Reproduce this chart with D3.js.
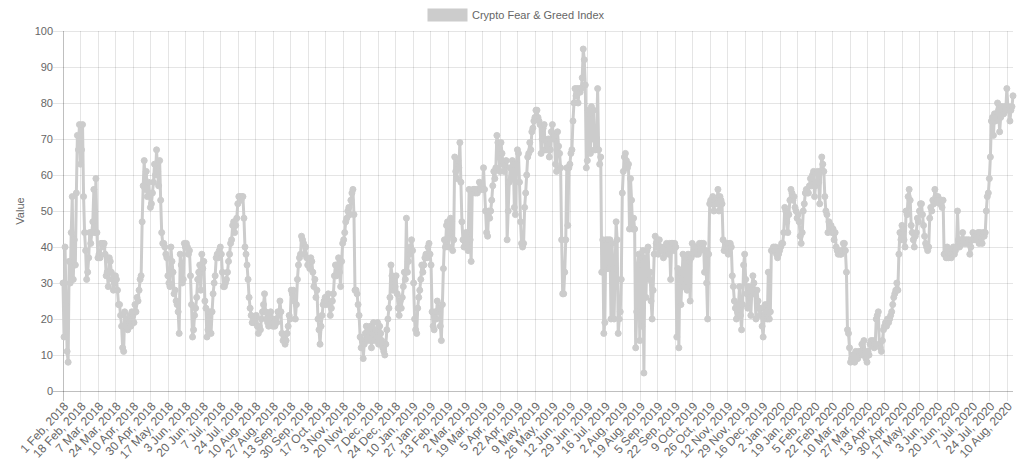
<!DOCTYPE html>
<html><head><meta charset="utf-8">
<script src="https://cdn.jsdelivr.net/npm/d3@7"></script>
<style>body{margin:0;background:#fff}svg{display:block;font-family:"Liberation Sans",Arial,Helvetica,sans-serif}</style>
</head><body><svg id="c" width="1024" height="463"></svg>
<script>
const seriesName = "Crypto Fear & Greed Index";
const yTitle = "Value";
const startDate = "2018-02-01";
const endDate = "2020-08-16";
const missingDays = ["2018-04-14","2018-04-15","2018-04-16"];
const values = [
30,15,40,24,11,8,36,30,44,54,
31,42,35,55,71,67,74,63,67,74,
54,44,39,31,33,37,44,41,
44,47,56,44,59,44,37,38,37,41,
41,40,41,38,32,33,29,37,36,33,
31,28,30,32,31,28,24,24,
21,18,12,11,22,18,20,17,19,21,
18,22,21,19,24,22,26,25,28,31,
32,
47,57,64,56,61,54,58,55,51,52,
55,58,63,60,67,61,57,64,53,44,
41,41,40,38,37,32,30,29,40,36,
33,27,28,25,24,22,16,38,35,30,
31,41,40,41,40,38,39,32,24,15,
17,21,23,26,31,33,
35,28,38,34,36,25,23,15,17,21,
22,16,22,27,30,32,37,38,37,39,
40,38,33,29,29,30,31,33,36,38,
41,42,46,47,44,46,48,52,54,54,
53,54,54,48,40,38,35,31,26,23,
21,19,19,20,19,21,18,16,18,17,
20,22,24,27,22,20,19,18,21,22,
20,18,19,18,20,19,22,21,25,22,
16,14,15,13,14,16,18,21,
20,28,27,28,25,20,24,31,35,37,
38,43,42,41,38,40,37,35,35,34,
37,36,33,29,31,26,28,20,17,13,
18,21,24,25,26,24,25,27,24,21,
23,25,27,32,35,32,35,37,33,29,
36,41,42,44,47,48,50,51,49,53,
55,56,49,28,28,27,24,21,15,12,
14,9,13,16,18,15,14,17,18,12,
16,19,14,17,15,19,13,18,
16,14,12,11,10,13,17,20,23,26,
35,32,28,31,29,32,27,23,21,25,
23,26,29,33,31,48,33,36,38,40,
42,39,30,20,17,16,23,26,28,31,
35,33,35,37,38,37,40,41,38,35,
22,18,17,22,20,25,22,23,18,14,
24,34,42,40,46,47,40,44,48,47,
39,42,65,61,59,64,62,69,58,47,
42,40,42,44,41,39,56,42,36,
55,56,56,55,56,55,56,58,56,57,
56,62,56,50,44,43,50,48,50,53,
57,61,59,62,71,69,65,61,69,66,
63,61,63,64,42,50,58,62,59,64,
63,51,49,63,67,66,58,47,41,40,
41,51,55,60,65,66,69,67,72,73,
75,76,78,78,76,75,74,66,70,73,
74,67,67,68,70,65,67,72,74,70,
71,63,61,72,68,66,
62,42,27,27,33,42,62,46,62,63,
66,67,75,80,84,82,84,80,84,83,
84,87,95,92,85,62,64,78,77,66,
79,70,78,67,67,70,84,67,63,65,
33,42,16,19,42,34,42,34,42,20,
41,33,20,34,47,42,16,20,22,31,
55,61,65,66,64,62,63,45,59,53,
45,48,45,12,22,35,38,14,37,18,
39,5,37,26,39,40,31,33,25,20,
28,38,43,41,40,38,42,39,40,39,
37,40,38,41,39,38,41,31,41,41,
39,41,40,15,34,12,33,24,31,38,
29,37,35,28,38,36,25,37,41,38,
40,40,38,39,38,41,39,41,40,41,
33,39,30,20,38,52,53,52,54,50,
52,53,52,56,50,54,53,52,42,39,
40,40,41,38,41,41,40,32,29,25,
23,20,22,24,29,21,
17,24,35,38,31,27,23,29,26,21,
28,32,30,27,20,28,25,23,21,23,
18,15,21,24,22,20,33,20,22,39,
39,40,39,40,38,37,38,39,40,41,
41,44,51,50,47,44,49,53,56,55,
53,54,51,50,48,49,47,43,41,44,
50,52,55,56,55,55,57,59,57,60,
61,54,57,58,61,58,52,61,65,63,
61,54,50,49,44,47,45,
46,44,45,42,44,40,39,38,39,38,
38,39,41,41,39,33,17,16,12,8,
9,10,9,8,11,9,9,11,10,11,
13,10,14,11,9,8,11,10,13,14,
13,14,12,13,20,21,22,13,12,11,
14,17,18,19,18,20,19,20,21,22,
24,26,27,28,30,28,38,44,42,46,
45,42,40,50,49,54,56,53,46,44,
42,40,43,44,48,47,50,52,
52,49,46,43,41,40,39,40,48,51,
50,53,52,56,54,53,54,53,52,53,
51,53,38,38,37,40,37,39,38,37,
38,40,38,39,40,50,42,40,42,41,
44,41,42,41,42,41,42,38,40,42,
44,42,43,43,42,44,41,44,42,41,
44,43,44,50,54,55,59,65,75,76,
71,77,75,76,80,78,72,76,79,78,
77,79,78,84,79,78,75,78,79,82
];
const tickLabels = ["1 Feb, 2018","18 Feb, 2018","7 Mar, 2018","24 Mar, 2018","10 Apr, 2018","30 Apr, 2018","17 May, 2018","3 Jun, 2018","20 Jun, 2018","7 Jul, 2018","24 Jul, 2018","10 Aug, 2018","27 Aug, 2018","13 Sep, 2018","30 Sep, 2018","17 Oct, 2018","3 Nov, 2018","20 Nov, 2018","7 Dec, 2018","24 Dec, 2018","10 Jan, 2019","27 Jan, 2019","13 Feb, 2019","2 Mar, 2019","19 Mar, 2019","5 Apr, 2019","22 Apr, 2019","9 May, 2019","26 May, 2019","12 Jun, 2019","29 Jun, 2019","16 Jul, 2019","2 Aug, 2019","19 Aug, 2019","5 Sep, 2019","22 Sep, 2019","9 Oct, 2019","26 Oct, 2019","12 Nov, 2019","29 Nov, 2019","16 Dec, 2019","2 Jan, 2020","19 Jan, 2020","5 Feb, 2020","22 Feb, 2020","10 Mar, 2020","27 Mar, 2020","13 Apr, 2020","30 Apr, 2020","17 May, 2020","3 Jun, 2020","20 Jun, 2020","7 Jul, 2020","24 Jul, 2020","10 Aug, 2020"];
const yTicks = [0,10,20,30,40,50,60,70,80,90,100];

const parse = d3.utcParse("%Y-%m-%d");
const fmt = d3.utcFormat("%-d %b, %Y");
const iso = d3.utcFormat("%Y-%m-%d");
const categories = d3.utcDay.range(parse(startDate), d3.utcDay.offset(parse(endDate), 1))
  .filter(d => !missingDays.includes(iso(d))).map(fmt);
const data = values.map((v, i) => ({cat: categories[i], v}));

const L = 63, R = 1013, T = 31, B = 391;
const color = "rgb(204,204,204)";
const grid = "rgba(0,0,0,0.1)";
const axisCol = "rgba(0,0,0,0.25)";
const txt = "#666";

const svg = d3.select("#c");
const x = d3.scalePoint().domain(categories.slice(0, values.length)).range([L, R]);
const y = d3.scaleLinear().domain([0, 100]).range([B, T]);

svg.append("g").selectAll("line").data(yTicks).join("line")
  .attr("x1", L - 10).attr("x2", R).attr("y1", d => Math.round(y(d)) + 0.5).attr("y2", d => Math.round(y(d)) + 0.5)
  .attr("stroke", d => d === 0 ? axisCol : grid).attr("stroke-width", 1);
svg.append("g").selectAll("line").data(tickLabels).join("line")
  .attr("x1", d => Math.round(x(d)) + 0.5).attr("x2", d => Math.round(x(d)) + 0.5)
  .attr("y1", T).attr("y2", B + 10)
  .attr("stroke", (d, i) => i === 0 ? axisCol : grid).attr("stroke-width", 1);

svg.append("g").selectAll("text").data(yTicks).join("text")
  .attr("x", L - 10).attr("y", d => y(d)).attr("dy", "0.35em")
  .attr("text-anchor", "end").attr("font-size", 11).attr("fill", txt).text(d => d);
svg.append("text").attr("transform", `translate(20,${(T + B) / 2}) rotate(-90)`)
  .attr("text-anchor", "middle").attr("dy", "0.35em").attr("font-size", 11).attr("fill", txt).text(yTitle);
svg.append("g").selectAll("text").data(tickLabels).join("text")
  .attr("transform", d => `translate(${x(d) + 3},${B + 13}) rotate(-47)`)
  .attr("text-anchor", "end").attr("dy", "0.35em").attr("font-size", 12).attr("fill", txt).text(d => d);

svg.append("path").datum(data)
  .attr("d", d3.line().x(d => x(d.cat)).y(d => y(d.v)))
  .attr("fill", "none").attr("stroke", color).attr("stroke-width", 3).attr("stroke-linejoin", "round");
svg.append("g").selectAll("circle").data(data).join("circle")
  .attr("cx", d => x(d.cat)).attr("cy", d => y(d.v)).attr("r", 3)
  .attr("fill", color).attr("stroke", color).attr("stroke-width", 1);

const lg = svg.append("g");
lg.append("rect").attr("x", 428).attr("y", 9).attr("width", 39).attr("height", 12)
  .attr("fill", color).attr("stroke", color);
lg.append("text").attr("x", 472).attr("y", 15).attr("dy", "0.35em")
  .attr("font-size", 11).attr("fill", txt).text(seriesName);
</script></body></html>
